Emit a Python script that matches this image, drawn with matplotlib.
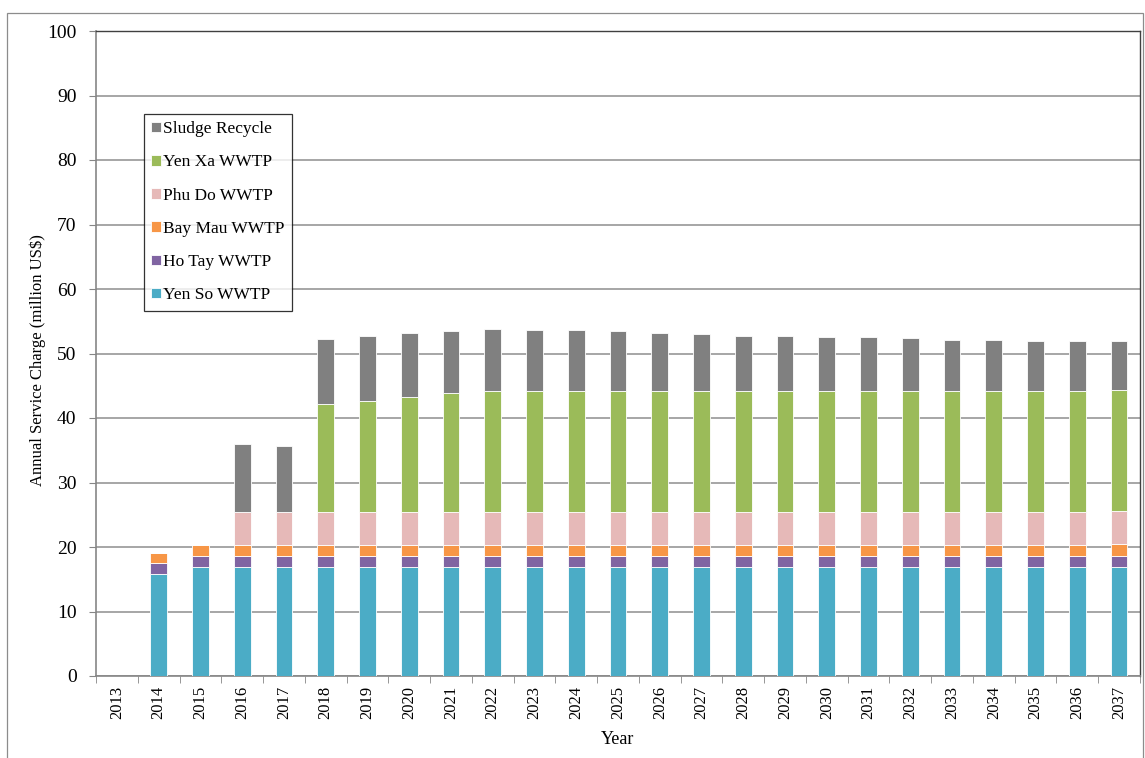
import matplotlib
matplotlib.use("Agg")
import matplotlib.pyplot as plt
import numpy as np
from matplotlib.patches import Rectangle

plt.rcParams['font.family'] = ['Liberation Serif', 'DejaVu Serif']

years = [str(y) for y in range(2013, 2038)]

yen_so = [0, 15.8] + [16.9] * 23
ho_tay = [0, 1.75] + [1.75] * 23
bay_mau = [0, 1.5] + [1.65] * 22 + [1.85]
phu_do = [0, 0, 0] + [5.15] * 22
yen_xa = [0, 0, 0, 0, 0, 16.65, 17.25, 17.8, 18.4] + [18.75] * 15 + [18.65]
sludge = [0, 0, 0, 10.5, 10.2, 10.2, 10.0, 10.0, 9.6, 9.65, 9.45, 9.45, 9.25,
          9.05, 8.9, 8.5, 8.5, 8.35, 8.35, 8.15, 7.95, 7.95, 7.8, 7.8, 7.65]

series = [
    ("Yen So WWTP", yen_so, "#4bacc6"),
    ("Ho Tay WWTP", ho_tay, "#8064a2"),
    ("Bay Mau WWTP", bay_mau, "#f79646"),
    ("Phu Do WWTP", phu_do, "#e6b9b8"),
    ("Yen Xa WWTP", yen_xa, "#9bbb59"),
    ("Sludge Recycle", sludge, "#808080"),
]

W, H = 1145, 758
fig = plt.figure(figsize=(W / 100, H / 100), dpi=100)
ax = fig.add_axes([96 / W, 1 - 676 / H, (1140 - 96) / W, (676 - 31) / H])

# outer chart border
fig.patches.append(Rectangle((7 / W, -0.01), (1143 - 7) / W, 1.01 - 13 / H,
                             transform=fig.transFigure, fill=False,
                             edgecolor="#8c8c8c", linewidth=0.9))

x = np.arange(len(years))
bottom = np.zeros(len(years))
handles = []
for name, vals, color in series:
    v = np.array(vals, dtype=float)
    b = ax.bar(x, v, width=0.4, bottom=bottom, color=color,
               edgecolor="#ffffff", linewidth=0.6, label=name, zorder=3)
    handles.append(b)
    bottom += v

ax.set_xlim(-0.5, len(years) - 0.5)
ax.set_ylim(0, 100)
ax.set_yticks(np.arange(0, 101, 10))
ax.yaxis.grid(True, color="#a6a6a6", linewidth=1.4, zorder=0)
ax.set_axisbelow(True)

ax.set_xticks(x)
ax.set_xticklabels(years, rotation=90, fontsize=12)
ax.set_xticks(np.arange(-0.5, len(years), 1), minor=True)
ax.tick_params(axis='x', which='major', length=0, pad=7)
ax.tick_params(axis='x', which='minor', length=5, color="#868686", direction='out')
ax.tick_params(axis='y', length=5, color="#868686", direction='out', labelsize=14, pad=9)

for side in ("left", "bottom"):
    ax.spines[side].set_color("#868686")
    ax.spines[side].set_linewidth(1.2)
for side in ("top", "right"):
    ax.spines[side].set_color("#404040")
    ax.spines[side].set_linewidth(1.0)

ax.set_xlabel("Year", fontsize=13)
ax.xaxis.set_label_coords(0.5, -0.085)
ax.set_ylabel("Annual Service Charge (million US$)", fontsize=12)
ax.yaxis.set_label_coords(-0.0478, 0.49)

leg = ax.legend(handles[::-1], [s[0] for s in series][::-1],
                loc="upper left", bbox_to_anchor=(144 / W, 1 - 114 / H),
                bbox_transform=fig.transFigure, fontsize=12.5,
                frameon=True, fancybox=False, edgecolor="#000000",
                handlelength=0.55, handleheight=0.55, handletextpad=0.15,
                labelspacing=0.99, borderpad=0.42, borderaxespad=0)
leg.get_frame().set_linewidth(0.9)
leg.set_zorder(5)

fig.savefig("out.png", dpi=100, facecolor="white")
